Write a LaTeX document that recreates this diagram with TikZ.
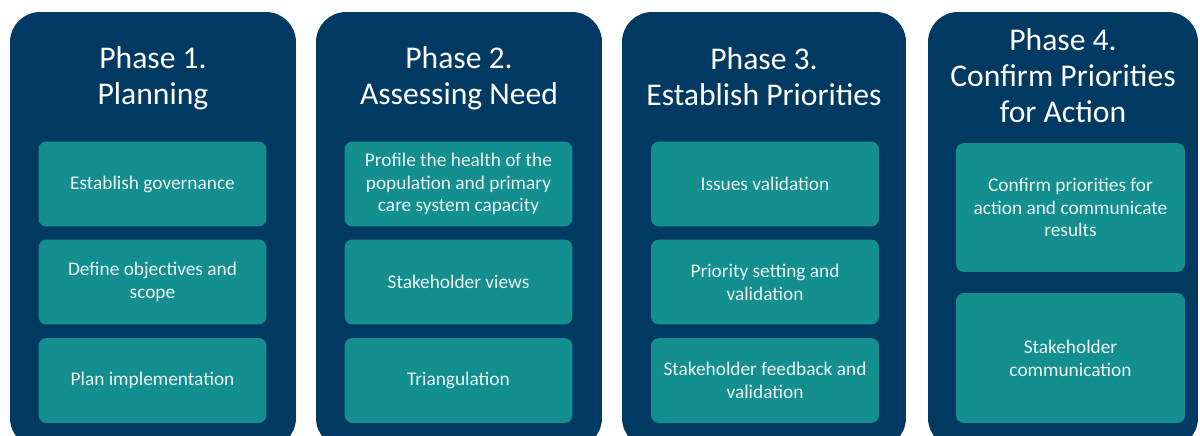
\documentclass[tikz,border=0pt]{standalone}
\usepackage{fontspec}
\setmainfont{Carlito}
\definecolor{phaseblue}{HTML}{003A63}
\definecolor{taskteal}{HTML}{138F90}
\tikzset{%
  phasecol/.style  = {shape=rectangle, rounded corners=0.6cm, fill=phaseblue,%
                      inner sep=0pt, minimum height=8.72cm},%
  phasetitle/.style= {text=white, align=center,%
                      font=\fontsize{18}{20.5}\selectfont},%
  taskbox/.style   = {shape=rectangle, rounded corners=0.16cm, fill=taskteal,%
                      text=white!92!taskteal, align=center, inner sep=0pt,%
                      minimum width=4.56cm, minimum height=1.7cm,%
                      font=\fontsize{11}{13}\selectfont}%
}
\begin{document}
\begin{tikzpicture}[x=0.02cm,y=-0.02cm]
	\useasboundingbox (0,0) rectangle (1200,436);
	\clip (0,0) rectangle (1200,436);
	% columns
	\node [phasecol, minimum width=5.72cm] (p1) at (153,230) {};
	\node [phasecol, minimum width=5.72cm] (p2) at (459,230) {};
	\node [phasecol, minimum width=5.68cm] (p3) at (764,230) {};
	\node [phasecol, minimum width=5.40cm] (p4) at (1063,230) {};
	% titles
	\node [phasetitle] (t1) at (153,78) {Phase 1.\\Planning};
	\node [phasetitle] (t2) at (459,78) {Phase 2.\\Assessing Need};
	\node [phasetitle] (t3) at (764,77) {Phase 3.\\Establish Priorities};
	\node [phasetitle] (t4) at (1063,76) {Phase 4.\\Confirm Priorities\\for Action};
	% phase 1
	\node [taskbox] (p1a) at (152.5,184) {Establish governance};
	\node [taskbox] (p1b) at (152.5,282) {Define objectives and\\scope};
	\node [taskbox] (p1c) at (152.5,380.5) {Plan implementation};
	% phase 2
	\node [taskbox] (p2a) at (458.5,184) {Profile the health of the\\population and primary\\care system capacity};
	\node [taskbox] (p2b) at (458.5,282) {Stakeholder views};
	\node [taskbox] (p2c) at (458.5,380.5) {Triangulation};
	% phase 3
	\node [taskbox] (p3a) at (765,184) {Issues validation};
	\node [taskbox] (p3b) at (765,282) {Priority setting and\\validation};
	\node [taskbox] (p3c) at (765,380.5) {Stakeholder feedback and\\validation};
	% phase 4
	\node [taskbox, minimum width=4.58cm, minimum height=2.58cm] (p4a) at (1070.5,207.5)
		{Confirm priorities for\\action and communicate\\results};
	\node [taskbox, minimum width=4.58cm, minimum height=2.6cm] (p4b) at (1070.5,358)
		{Stakeholder\\communication};
\end{tikzpicture}
\end{document}
